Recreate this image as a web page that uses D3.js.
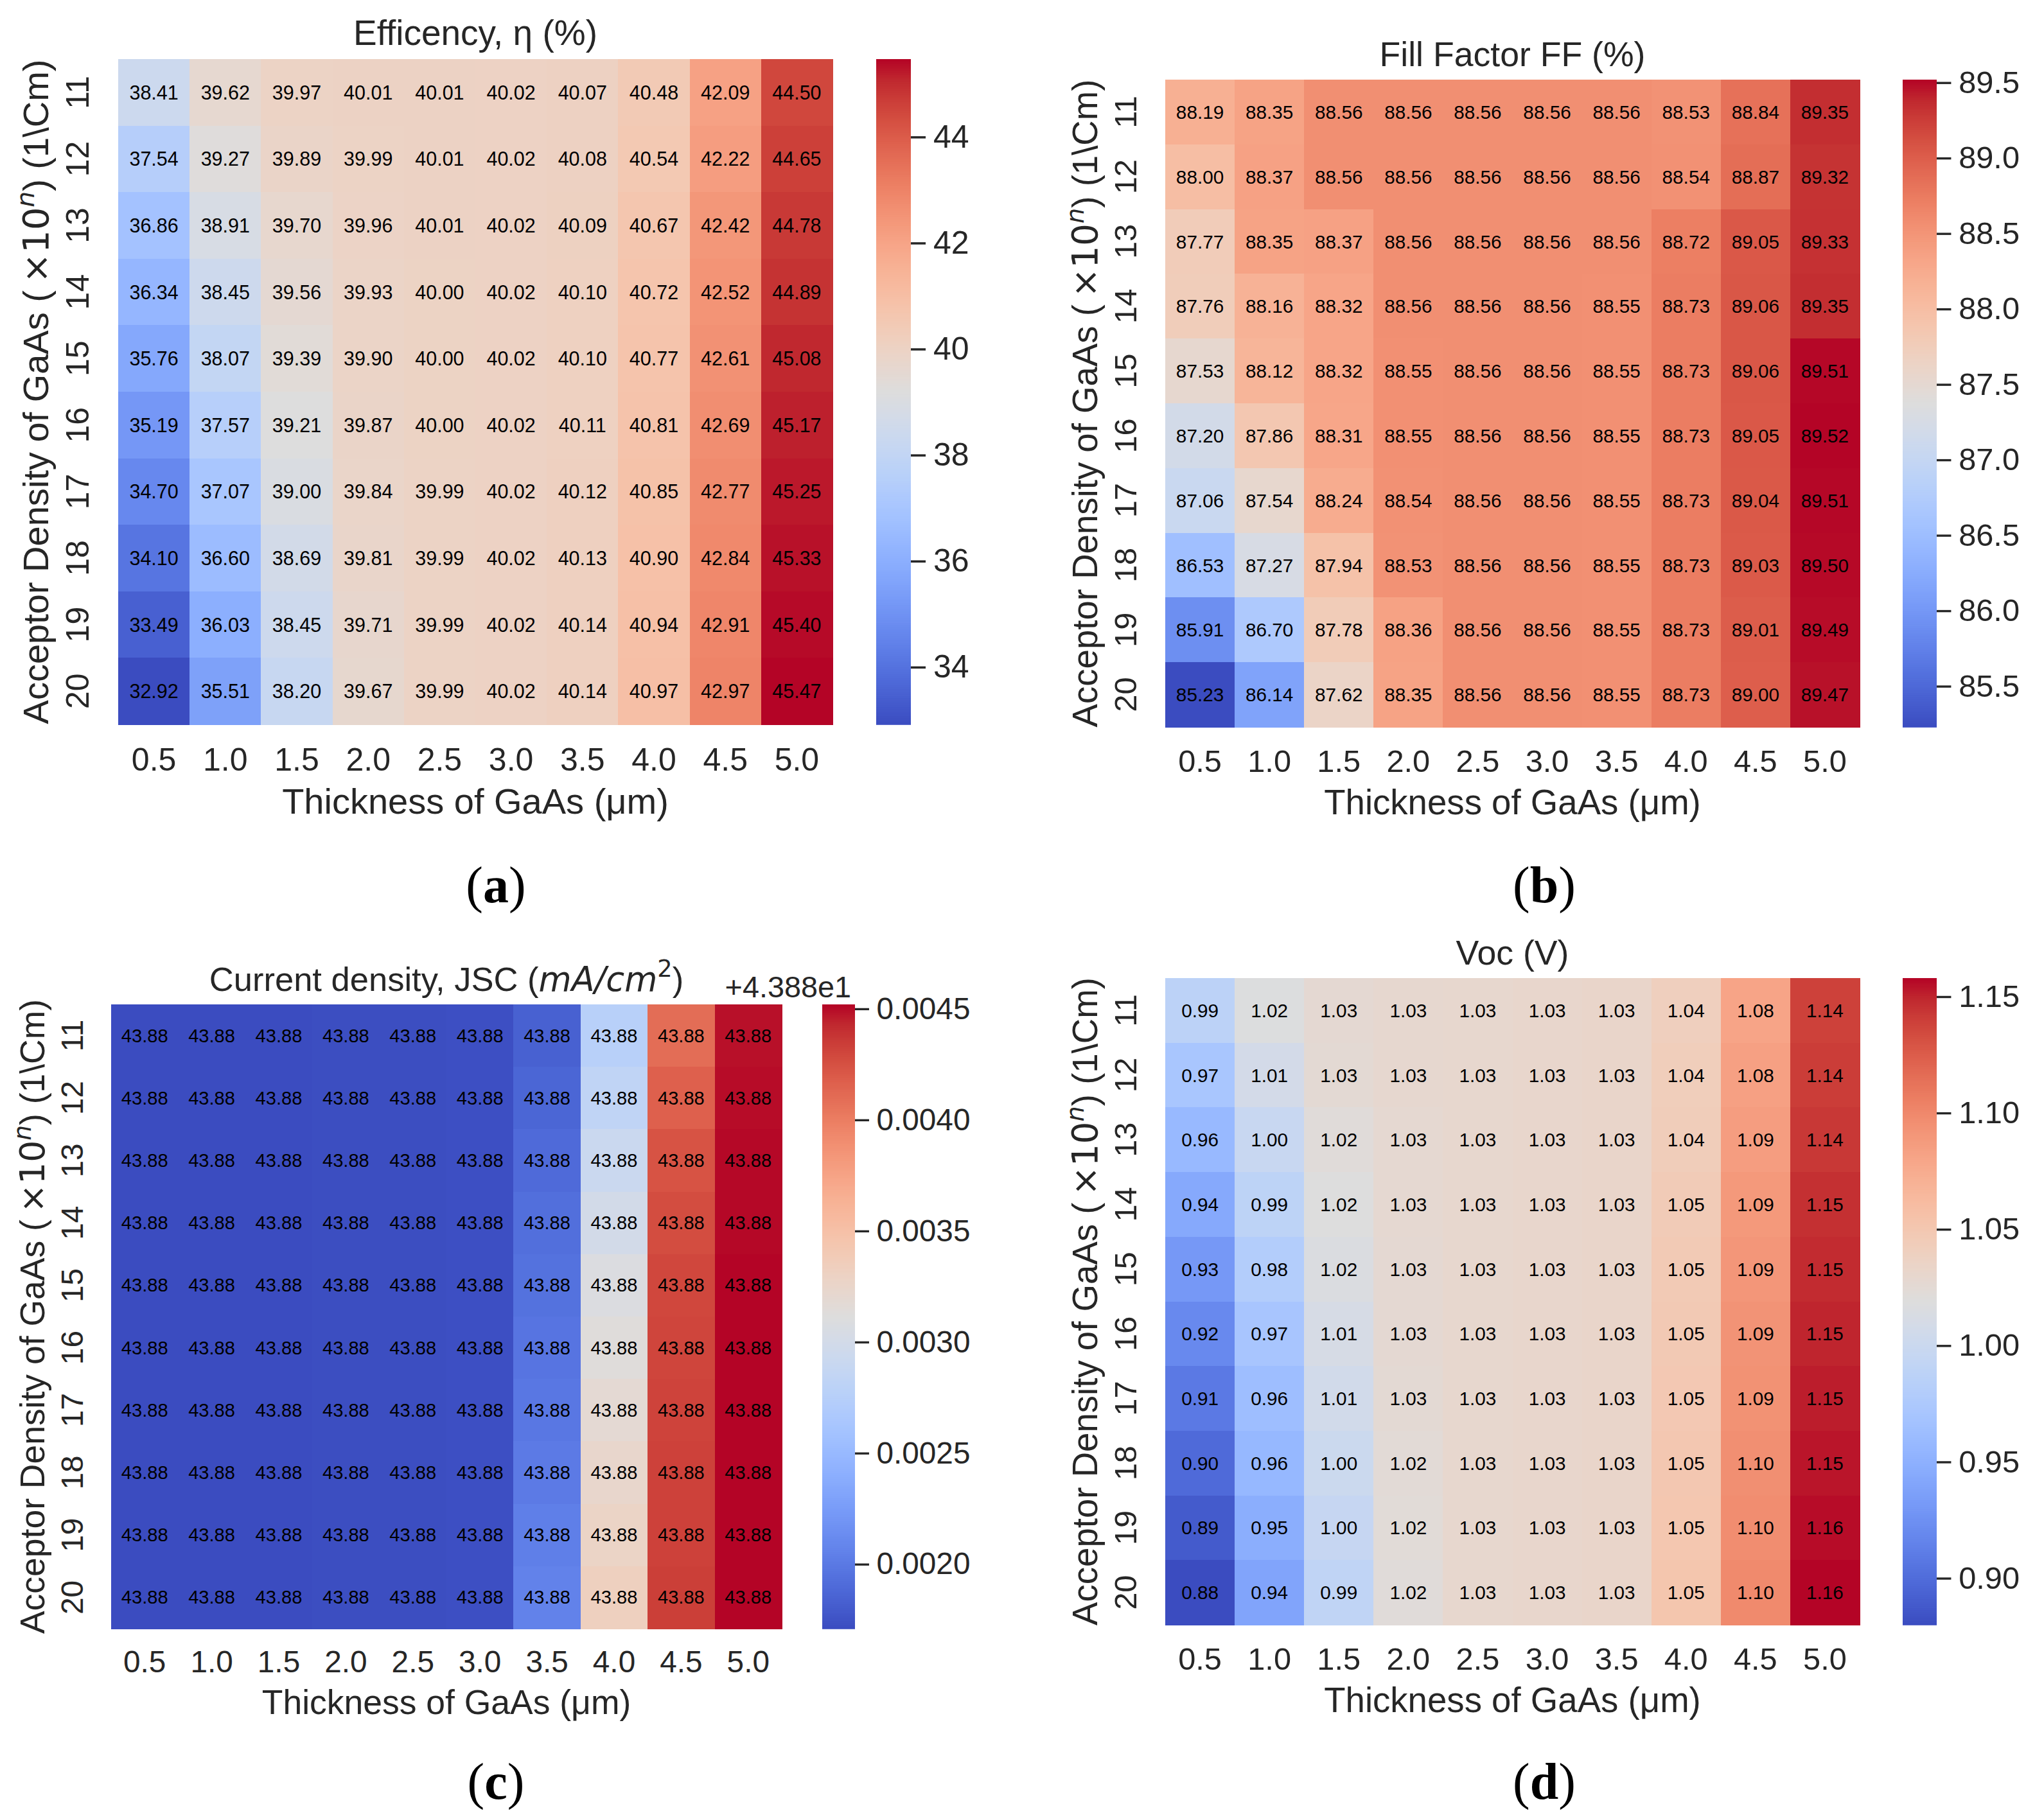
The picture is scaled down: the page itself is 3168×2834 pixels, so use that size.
<!DOCTYPE html>
<html>
<head>
<meta charset="utf-8">
<script src="https://cdn.jsdelivr.net/npm/d3@7"></script>
<style>
  html, body { margin: 0; padding: 0; background: #fff; }
  svg { display: block; }
</style>
</head>
<body>
<div id="chart"></div>
<script>
// ---- data ----
const THICKNESS = ["0.5", "1.0", "1.5", "2.0", "2.5", "3.0", "3.5", "4.0", "4.5", "5.0"];
const DENSITY = ["11", "12", "13", "14", "15", "16", "17", "18", "19", "20"];

// rows = acceptor density 11..20, columns = thickness 0.5..5.0
const EFFICIENCY = [
  [38.41, 39.62, 39.97, 40.01, 40.01, 40.02, 40.07, 40.48, 42.09, 44.50],
  [37.54, 39.27, 39.89, 39.99, 40.01, 40.02, 40.08, 40.54, 42.22, 44.65],
  [36.86, 38.91, 39.70, 39.96, 40.01, 40.02, 40.09, 40.67, 42.42, 44.78],
  [36.34, 38.45, 39.56, 39.93, 40.00, 40.02, 40.10, 40.72, 42.52, 44.89],
  [35.76, 38.07, 39.39, 39.90, 40.00, 40.02, 40.10, 40.77, 42.61, 45.08],
  [35.19, 37.57, 39.21, 39.87, 40.00, 40.02, 40.11, 40.81, 42.69, 45.17],
  [34.70, 37.07, 39.00, 39.84, 39.99, 40.02, 40.12, 40.85, 42.77, 45.25],
  [34.10, 36.60, 38.69, 39.81, 39.99, 40.02, 40.13, 40.90, 42.84, 45.33],
  [33.49, 36.03, 38.45, 39.71, 39.99, 40.02, 40.14, 40.94, 42.91, 45.40],
  [32.92, 35.51, 38.20, 39.67, 39.99, 40.02, 40.14, 40.97, 42.97, 45.47]
];

const FILL_FACTOR = [
  [88.19, 88.35, 88.56, 88.56, 88.56, 88.56, 88.56, 88.53, 88.84, 89.35],
  [88.00, 88.37, 88.56, 88.56, 88.56, 88.56, 88.56, 88.54, 88.87, 89.32],
  [87.77, 88.35, 88.37, 88.56, 88.56, 88.56, 88.56, 88.72, 89.05, 89.33],
  [87.76, 88.16, 88.32, 88.56, 88.56, 88.56, 88.55, 88.73, 89.06, 89.35],
  [87.53, 88.12, 88.32, 88.55, 88.56, 88.56, 88.55, 88.73, 89.06, 89.51],
  [87.20, 87.86, 88.31, 88.55, 88.56, 88.56, 88.55, 88.73, 89.05, 89.52],
  [87.06, 87.54, 88.24, 88.54, 88.56, 88.56, 88.55, 88.73, 89.04, 89.51],
  [86.53, 87.27, 87.94, 88.53, 88.56, 88.56, 88.55, 88.73, 89.03, 89.50],
  [85.91, 86.70, 87.78, 88.36, 88.56, 88.56, 88.55, 88.73, 89.01, 89.49],
  [85.23, 86.14, 87.62, 88.35, 88.56, 88.56, 88.55, 88.73, 89.00, 89.47]
];

// JSC all print as 43.88; finer digits
const JSC = [
  [43.88171, 43.88171, 43.88171, 43.88172, 43.88172, 43.88173, 43.88184, 43.88276, 43.88410, 43.88449],
  [43.88171, 43.88171, 43.88171, 43.88172, 43.88172, 43.88173, 43.88187, 43.88283, 43.88417, 43.88450],
  [43.88171, 43.88171, 43.88171, 43.88172, 43.88172, 43.88173, 43.88190, 43.88292, 43.88424, 43.88451],
  [43.88171, 43.88171, 43.88171, 43.88172, 43.88172, 43.88173, 43.88193, 43.88300, 43.88427, 43.88451],
  [43.88171, 43.88171, 43.88171, 43.88172, 43.88172, 43.88173, 43.88195, 43.88309, 43.88430, 43.88452],
  [43.88171, 43.88171, 43.88171, 43.88172, 43.88172, 43.88173, 43.88197, 43.88314, 43.88431, 43.88452],
  [43.88171, 43.88171, 43.88171, 43.88172, 43.88172, 43.88173, 43.88199, 43.88319, 43.88432, 43.88452],
  [43.88171, 43.88171, 43.88171, 43.88172, 43.88172, 43.88173, 43.88201, 43.88324, 43.88433, 43.88452],
  [43.88171, 43.88171, 43.88171, 43.88172, 43.88172, 43.88173, 43.88204, 43.88328, 43.88433, 43.88452],
  [43.88171, 43.88171, 43.88171, 43.88172, 43.88172, 43.88173, 43.88206, 43.88333, 43.88434, 43.88452]
];
const JSC_OFFSET = 43.88;

const VOC = [
  [0.988, 1.018, 1.027, 1.029, 1.030, 1.031, 1.033, 1.041, 1.081, 1.139],
  [0.972, 1.008, 1.026, 1.029, 1.030, 1.031, 1.033, 1.043, 1.084, 1.141],
  [0.958, 0.998, 1.022, 1.028, 1.030, 1.031, 1.033, 1.044, 1.086, 1.143],
  [0.944, 0.989, 1.019, 1.028, 1.030, 1.031, 1.033, 1.046, 1.089, 1.146],
  [0.931, 0.980, 1.016, 1.027, 1.030, 1.031, 1.033, 1.047, 1.091, 1.148],
  [0.920, 0.971, 1.011, 1.027, 1.030, 1.031, 1.033, 1.048, 1.093, 1.150],
  [0.909, 0.963, 1.006, 1.026, 1.030, 1.031, 1.033, 1.049, 1.094, 1.152],
  [0.899, 0.957, 1.001, 1.024, 1.030, 1.031, 1.033, 1.050, 1.096, 1.154],
  [0.889, 0.948, 0.996, 1.023, 1.030, 1.031, 1.033, 1.051, 1.097, 1.156],
  [0.880, 0.940, 0.991, 1.022, 1.030, 1.031, 1.033, 1.052, 1.099, 1.158]
];

const EFF_TICKS = [34, 36, 38, 40, 42, 44];
const FF_TICKS = [85.5, 86.0, 86.5, 87.0, 87.5, 88.0, 88.5, 89.0, 89.5];
const JSC_TICKS = [43.882, 43.8825, 43.883, 43.8835, 43.884, 43.8845];
const VOC_TICKS = [0.90, 0.95, 1.00, 1.05, 1.10, 1.15];

// matplotlib "coolwarm" (Moreland) control colours
const COOLWARM = [
  [59, 76, 192], [68, 90, 204], [77, 104, 215], [87, 117, 225], [98, 130, 234],
  [108, 142, 241], [119, 154, 247], [130, 165, 251], [141, 176, 254], [152, 185, 255],
  [163, 194, 255], [174, 201, 253], [184, 208, 249], [194, 213, 244], [204, 217, 238],
  [213, 219, 230], [221, 221, 221], [229, 216, 209], [236, 211, 197], [241, 204, 184],
  [245, 196, 172], [247, 187, 160], [247, 177, 148], [247, 166, 137], [244, 154, 124],
  [241, 141, 112], [236, 127, 99], [229, 112, 88], [222, 96, 77], [213, 80, 66],
  [203, 62, 56], [192, 40, 47], [180, 4, 38]
];
const coolwarm = d3.piecewise(d3.interpolateRgb, COOLWARM.map(c => d3.rgb(c[0], c[1], c[2])));

// ---- layout ----
const W = 3168, H = 2834;
const INK = "#262626";
const SANS = "'Liberation Sans', Arial, sans-serif";
const MATH = "'DejaVu Sans', sans-serif";
const SERIF = "'Liberation Serif', 'Times New Roman', serif";

const svg = d3.select("#chart").append("svg")
  .attr("width", W).attr("height", H)
  .attr("viewBox", `0 0 ${W} ${H}`)
  .style("font-family", SANS);
svg.append("rect").attr("width", W).attr("height", H).attr("fill", "#fff");

function yLabelText(t) {
  t.append("tspan").text("Acceptor Density of GaAs (");
  t.append("tspan").style("font-family", MATH).text("\u2009×10");
  t.append("tspan").style("font-family", MATH).style("font-style", "italic")
    .attr("font-size", "0.7em").attr("dy", "-0.55em").text("n");
  t.append("tspan").attr("dy", "0.385em").text(") (1\\Cm)");
}

const panels = [
  {
    tag: "a", data: EFFICIENCY, ticks: EFF_TICKS, tickFmt: d3.format("d"),
    title: t => t.text("Efficency, η (%)"),
    x0: 184, x1: 1296, y0: 92, y1: 1128, cb0: 1364, cb1: 1418, k: 1,
    lx: 772, ly: 1405
  },
  {
    tag: "b", data: FILL_FACTOR, ticks: FF_TICKS, tickFmt: d3.format(".1f"),
    title: t => t.text("Fill Factor FF (%)"),
    x0: 1814, x1: 2895, y0: 124, y1: 1132, cb0: 2962, cb1: 3015, k: 0.975,
    lx: 2404, ly: 1405
  },
  {
    tag: "c", data: JSC, ticks: JSC_TICKS, tickFmt: v => (v - JSC_OFFSET).toFixed(4),
    title: t => {
      t.append("tspan").text("Current density, JSC (");
      t.append("tspan").style("font-family", MATH).style("font-style", "italic").text("mA/cm");
      t.append("tspan").style("font-family", MATH).attr("font-size", "0.7em").attr("dy", "-0.6em").text("2");
      t.append("tspan").attr("dy", "0.42em").text(")");
    },
    offsetText: "+4.388e1",
    x0: 173, x1: 1217, y0: 1564, y1: 2536, cb0: 1280, cb1: 1331, k: 0.955,
    lx: 772, ly: 2801
  },
  {
    tag: "d", data: VOC, ticks: VOC_TICKS, tickFmt: d3.format(".2f"),
    title: t => t.text("Voc (V)"),
    x0: 1814, x1: 2895, y0: 1523, y1: 2530, cb0: 2962, cb1: 3015, k: 0.975,
    lx: 2404, ly: 2801
  }
];

panels.forEach(p => {
  const k = p.k;
  const g = svg.append("g").attr("class", `panel-${p.tag}`);

  const x = d3.scaleBand().domain(THICKNESS).range([p.x0, p.x1]);
  const y = d3.scaleBand().domain(DENSITY).range([p.y0, p.y1]);
  const extent = d3.extent(p.data.flat());
  const color = d3.scaleSequential(coolwarm).domain(extent);

  const cells = p.data.flatMap((row, i) =>
    row.map((v, j) => ({ row: DENSITY[i], col: THICKNESS[j], v })));

  // cells
  g.append("g").selectAll("rect").data(cells).join("rect")
    .attr("x", d => x(d.col))
    .attr("y", d => y(d.row))
    .attr("width", x.bandwidth() + 0.6)
    .attr("height", y.bandwidth() + 0.6)
    .attr("fill", d => color(d.v))
    .attr("shape-rendering", "crispEdges");

  // annotations
  g.append("g").selectAll("text").data(cells).join("text")
    .attr("x", d => x(d.col) + x.bandwidth() / 2)
    .attr("y", d => y(d.row) + y.bandwidth() / 2)
    .attr("text-anchor", "middle")
    .attr("dominant-baseline", "central")
    .attr("font-size", 30.5 * k)
    .attr("fill", "#000")
    .text(d => d3.format(".2f")(d.v));

  // x axis
  const gx = g.append("g")
    .attr("transform", `translate(0,${p.y1})`)
    .call(d3.axisBottom(x).tickSize(0).tickPadding(36 * k));
  gx.select(".domain").remove();
  gx.selectAll("text").attr("font-size", 50 * k).attr("fill", INK).style("font-family", SANS);

  // y axis (labels rotated, as in the original)
  const gy = g.append("g")
    .attr("transform", `translate(${p.x0},0)`)
    .call(d3.axisLeft(y).tickSize(0));
  gy.select(".domain").remove();
  gy.selectAll("text")
    .attr("x", null).attr("dy", null)
    .attr("text-anchor", "middle")
    .attr("transform", `translate(${-46 * k},0) rotate(-90)`)
    .attr("font-size", 50 * k).attr("fill", INK).style("font-family", SANS);

  // axis titles
  g.append("text")
    .attr("x", (p.x0 + p.x1) / 2).attr("y", p.y1 + 139 * k)
    .attr("text-anchor", "middle").attr("font-size", 56 * k).attr("fill", INK)
    .text("Thickness of GaAs (μm)");

  g.append("text")
    .attr("transform", `translate(${p.x0 - 109 * k},${(p.y0 + p.y1) / 2}) rotate(-90)`)
    .attr("text-anchor", "middle").attr("font-size", 56 * k).attr("fill", INK)
    .call(yLabelText);

  g.append("text")
    .attr("x", (p.x0 + p.x1) / 2).attr("y", p.y0 - 22 * k)
    .attr("text-anchor", "middle").attr("font-size", 55 * k).attr("fill", INK)
    .call(p.title);

  // colour bar
  const cb = d3.scaleLinear().domain(extent).range([p.y1, p.y0]);
  const N = 300;
  const step = (p.y1 - p.y0) / N;
  g.append("g").selectAll("rect").data(d3.range(N)).join("rect")
    .attr("x", p.cb0)
    .attr("y", i => p.y1 - (i + 1) * step)
    .attr("width", p.cb1 - p.cb0)
    .attr("height", step + 0.8)
    .attr("fill", i => color(cb.invert(p.y1 - (i + 0.5) * step)));

  const gc = g.append("g")
    .attr("transform", `translate(${p.cb1},0)`)
    .call(d3.axisRight(cb).tickValues(p.ticks).tickFormat(p.tickFmt)
      .tickSize(23 * k).tickPadding(12 * k));
  gc.select(".domain").remove();
  gc.selectAll("line").attr("stroke", INK).attr("stroke-width", 3.5 * k);
  gc.selectAll("text").attr("font-size", 50 * k).attr("fill", INK).style("font-family", SANS);

  if (p.offsetText) {
    g.append("text")
      .attr("x", p.cb1 - 6).attr("y", p.y0 - 11)
      .attr("text-anchor", "end").attr("font-size", 49 * k).attr("fill", INK)
      .text(p.offsetText);
  }

  // sub-figure label
  const lab = g.append("text")
    .attr("x", p.lx).attr("y", p.ly)
    .attr("text-anchor", "middle")
    .style("font-family", SERIF)
    .attr("font-size", 80).attr("fill", "#000");
  lab.append("tspan").text("(");
  lab.append("tspan").attr("font-weight", "bold").text(p.tag);
  lab.append("tspan").text(")");
});
</script>
</body>
</html>
